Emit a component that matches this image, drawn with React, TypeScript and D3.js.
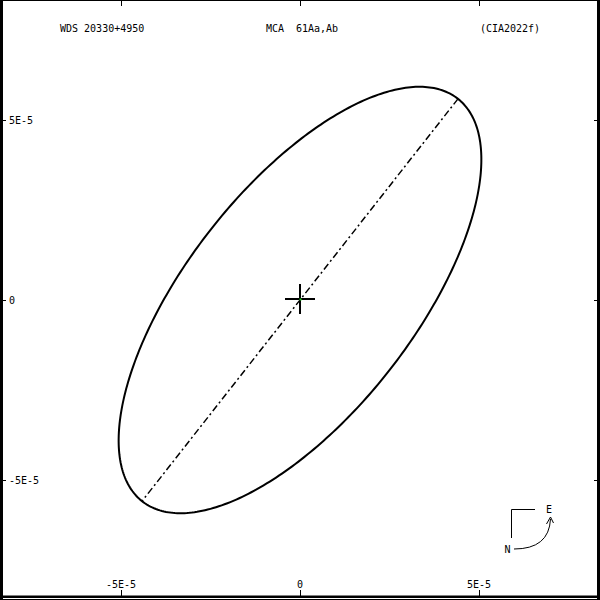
import * as d3 from "d3";

// plot header
const headerLabels = ["WDS 20330+4950", "MCA  61Aa,Ab", "(CIA2022f)"];
// axis ticks (arcsec)
const tickValues = [-5e-5, 0, 5e-5];
const tickLabels = ["-5E-5", "0", "5E-5"];
// apparent orbit ellipse, data units
const orbitCenter = [0, 0];
const orbitSemiMajor = 7.12e-5;
const orbitSemiMinor = 3.17e-5;
const orbitAngleDeg = 51.7;

const W = 600;
const H = 600;

export default function App() {
  const x = d3.scaleLinear().domain([-5e-5, 5e-5]).range([121, 479]);
  const y = d3.scaleLinear().domain([-5e-5, 5e-5]).range([480, 120]);

  const th = (orbitAngleDeg * Math.PI) / 180;
  const pt = (t: number): [number, number] => [
    orbitCenter[0] + orbitSemiMajor * Math.cos(th) * Math.cos(t) - orbitSemiMinor * Math.sin(th) * Math.sin(t),
    orbitCenter[1] + orbitSemiMajor * Math.sin(th) * Math.cos(t) + orbitSemiMinor * Math.cos(th) * Math.sin(t),
  ];
  const samples = d3.range(0, 2 * Math.PI, Math.PI / 180).map(pt);
  const ellipse = d3
    .line<[number, number]>()
    .x((d) => x(d[0]))
    .y((d) => y(d[1]))
    .curve(d3.curveLinearClosed)(samples);

  const nodeA = pt(0);
  const nodeB = pt(Math.PI);

  const font = { fontFamily: "'DejaVu Sans Mono', monospace", fontSize: 10 };

  return (
    <svg
      width={W}
      height={H}
      style={{ position: "absolute", left: 0, top: 0, background: "#fff" }}
    >
      <rect width={W} height={H} fill="#fff" />
      {/* frame */}
      <g stroke="#000" fill="none">
        <line x1={0} x2={W} y1={0.5} y2={0.5} strokeWidth={1} />
        <line x1={1.5} x2={1.5} y1={0} y2={H} strokeWidth={3} />
        <line x1={598.5} x2={598.5} y1={0} y2={H} strokeWidth={3} />
        <line x1={0} x2={W} y1={596.8} y2={596.8} strokeWidth={2.5} />
        <line x1={0} x2={W} y1={599.5} y2={599.5} strokeWidth={1} />
      </g>
      {/* ticks */}
      <g stroke="#000" strokeWidth={1}>
        {tickValues.map((v) => (
          <g key={v}>
            <line x1={x(v) + 0.5} x2={x(v) + 0.5} y1={0} y2={6} />
            <line x1={x(v) + 0.5} x2={x(v) + 0.5} y1={590} y2={596} />
            <line x1={0} x2={6} y1={y(v) + 0.5} y2={y(v) + 0.5} />
            <line x1={594} x2={600} y1={y(v) + 0.5} y2={y(v) + 0.5} />
          </g>
        ))}
      </g>
      <g {...font} fill="#000">
        {tickValues.map((v, i) => (
          <text key={"x" + v} x={x(v)} y={588} textAnchor="middle">
            {tickLabels[i]}
          </text>
        ))}
        {tickValues.map((v, i) => (
          <text key={"y" + v} x={9} y={y(v) + 4}>
            {tickLabels[i]}
          </text>
        ))}
        <text x={60} y={32} xmlSpace="preserve">{headerLabels[0]}</text>
        <text x={302} y={32} textAnchor="middle" xmlSpace="preserve">{headerLabels[1]}</text>
        <text x={510} y={32} textAnchor="middle" xmlSpace="preserve">{headerLabels[2]}</text>
      </g>
      {/* orbit */}
      <path d={ellipse ?? ""} fill="none" stroke="#000" strokeWidth={2} />
      <line
        x1={x(nodeA[0])}
        y1={y(nodeA[1])}
        x2={x(nodeB[0])}
        y2={y(nodeB[1])}
        stroke="#000"
        strokeWidth={1.5}
        strokeDasharray="7,3,2,3"
      />
      {/* primary */}
      <g stroke="#000" strokeWidth={2}>
        <line x1={x(0) - 15} x2={x(0) + 15} y1={y(0) - 1} y2={y(0) - 1} />
        <line x1={x(0)} x2={x(0)} y1={y(0) - 16} y2={y(0) + 14} />
      </g>
      <rect x={x(0) - 0.5} y={y(0) - 1.5} width={2} height={2} fill="#2c2" />
      {/* compass */}
      <g stroke="#000" fill="none" strokeWidth={1}>
        <polyline points="535,509.5 511.5,509.5 511.5,538" />
        <path d="M514,549 Q549,549 550.5,519" />
        <polyline points="546.5,524 550.5,517 553.5,523" />
      </g>
      <g {...font} fill="#000">
        <text x={549} y={513} textAnchor="middle">E</text>
        <text x={507.5} y={553} textAnchor="middle">N</text>
      </g>
    </svg>
  );
}
